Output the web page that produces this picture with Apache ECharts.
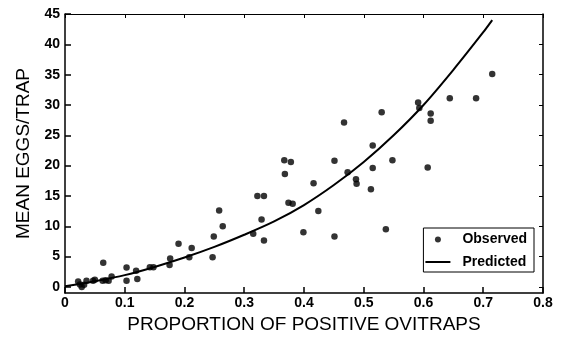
<!DOCTYPE html>
<html>
<head>
<meta charset="utf-8">
<script src="https://cdn.jsdelivr.net/npm/echarts@6/dist/echarts.min.js"></script>
<style>
html,body{margin:0;padding:0;background:#fff;}
#chart{width:564px;height:343px;}
</style>
</head>
<body>
<div id="chart"></div>
<script>
// Observed points: proportion of positive ovitraps (x) and mean eggs/trap (y)
var obsX = [0.022,0.025,0.028,0.032,0.036,0.047,0.050,0.063,0.064,0.068,0.073,0.078,
  0.103,0.103,0.119,0.121,0.142,0.148,0.175,0.176,0.190,0.208,0.212,
  0.247,0.249,0.258,0.264,0.315,0.322,0.329,0.333,0.333,
  0.367,0.368,0.374,0.378,0.381,0.399,0.416,0.424,0.451,0.451,0.467,0.473,
  0.487,0.488,0.512,0.515,0.515,0.530,0.537,0.548,
  0.591,0.593,0.607,0.612,0.612,0.644,0.688,0.715];
var obsY = [0.9,0.4,0.0,0.35,1.0,1.0,1.2,1.0,4.0,1.1,1.0,1.7,
  3.2,1.0,2.65,1.3,3.25,3.25,3.6,4.7,7.1,4.9,6.4,
  4.9,8.3,12.6,10.0,8.75,15.0,11.1,15.0,7.65,
  20.9,18.6,13.9,20.6,13.7,9.0,17.1,12.5,20.8,8.3,27.1,18.9,
  17.75,17.0,16.1,23.3,19.6,28.8,9.5,20.9,
  30.4,29.5,19.7,28.6,27.4,31.1,31.1,35.1];
// Predicted curve
var predX = [0,0.05,0.10,0.15,0.20,0.25,0.30,0.35,0.40,0.45,0.50,0.55,0.60,0.65,0.70,0.715];
var predY = [0.1,0.95,1.95,3.3,4.85,6.6,8.6,10.8,13.5,16.8,20.6,25.0,30.0,35.8,42.0,44.0];
// Tick values
var yTicks = [0,5,10,15,20,25,30,35,40,45];
var xTicks = [0,0.1,0.2,0.3,0.4,0.5,0.6,0.7,0.8];

var obsData = obsX.map(function(x,i){return [x,obsY[i]];});
var predData = predX.map(function(x,i){return [x,predY[i]];});

var font = 'Arial, "Liberation Sans", Helvetica, sans-serif';
var chart = echarts.init(document.getElementById('chart'), null, {renderer:'canvas'});
var axLine = {show:true, onZero:false, lineStyle:{color:'#000', width:1.5}};
chart.setOption({
  animation:false,
  backgroundColor:'#fff',
  grid:{left:65, right:21, top:14, bottom:50, containLabel:false},
  xAxis:[{
    type:'value', min:0, max:0.8, interval:0.1, position:'bottom',
    axisLine:axLine,
    axisTick:{show:true, inside:true, length:6, lineStyle:{color:'#000', width:1.5}},
    axisLabel:{show:true, color:'#000', fontFamily:font, fontSize:14, fontWeight:'bold', margin:3,
      formatter:function(v){return String(Math.round(v*10)/10);}},
    splitLine:{show:false},
    name:'PROPORTION OF POSITIVE OVITRAPS', nameLocation:'middle', nameGap:18,
    nameTextStyle:{color:'#000', fontFamily:font, fontSize:19}
  },{
    type:'value', min:0, max:0.8, interval:0.1, position:'top',
    axisLine:{show:true, onZero:false, lineStyle:{color:'#000', width:1}},
    axisTick:{show:true, inside:true, length:4, lineStyle:{color:'#000', width:1}},
    axisLabel:{show:false}, splitLine:{show:false}
  }],
  yAxis:[{
    type:'value', min:-1, max:45, position:'left',
    axisLine:axLine,
    axisTick:{show:true, inside:true, length:6, customValues:yTicks, lineStyle:{color:'#000', width:1.5}},
    axisLabel:{show:true, color:'#000', fontFamily:font, fontSize:14, fontWeight:'bold', margin:5, customValues:yTicks},
    splitLine:{show:false},
    name:'MEAN EGGS/TRAP', nameLocation:'middle', nameGap:28, nameRotate:90,
    nameTextStyle:{color:'#000', fontFamily:font, fontSize:19}
  },{
    type:'value', min:-1, max:45, position:'right',
    axisLine:{show:true, onZero:false, lineStyle:{color:'#000', width:1.5}},
    axisTick:{show:true, inside:true, length:4, customValues:yTicks, lineStyle:{color:'#000', width:1}},
    axisLabel:{show:false}, splitLine:{show:false}
  }],
  legend:{
    show:true, orient:'vertical', right:30, bottom:71,
    data:[{name:'Observed', icon:'circle'},{name:'Predicted', icon:'path://M0,0 L25,0 L25,2 L0,2 Z'}],
    itemWidth:25, itemHeight:6, itemGap:6.5,
    padding:[3.5,7,2,2],
    borderColor:'#000', borderWidth:1, backgroundColor:'#fff',
    textStyle:{color:'#000', fontFamily:font, fontSize:14, fontWeight:'bold', padding:[0,0,0,7], lineHeight:16}
  },
  series:[{
    name:'Observed', type:'scatter', data:obsData, xAxisIndex:0, yAxisIndex:0,
    symbol:'circle', symbolSize:6.5, itemStyle:{color:'#000'}, z:3
  },{
    name:'Predicted', type:'line', data:predData, xAxisIndex:0, yAxisIndex:0,
    smooth:0.3, showSymbol:false, symbol:'none',
    lineStyle:{color:'#000', width:2}, itemStyle:{color:'#000'}, z:2
  }]
});
</script>
</body>
</html>
